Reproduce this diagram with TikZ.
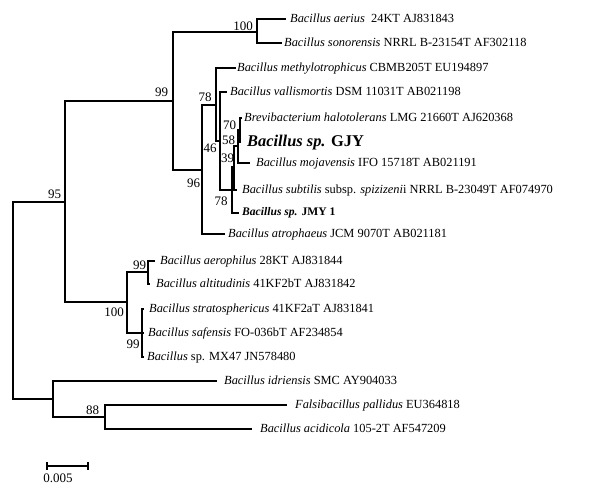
\documentclass[tikz,border=0pt]{standalone}
\usepackage{fontspec}
\setmainfont{Liberation Serif}
\begin{document}
\begin{tikzpicture}[x=1pt,y=-1pt,
  br/.style={line width=1.2pt, line join=miter},
  leaf/.style={anchor=west, inner sep=0pt, text height=9pt, text depth=3pt, font=\fontsize{12.4}{14}\selectfont},
  bigleaf/.style={anchor=west, inner sep=0pt, text height=12pt, text depth=4pt, font=\fontsize{16.4}{18}\selectfont\bfseries},
  smallbold/.style={anchor=west, inner sep=0pt, text height=8pt, text depth=3pt, font=\fontsize{11.6}{13}\selectfont\bfseries},
  boot/.style={inner sep=0pt, font=\fontsize{13}{15}\selectfont}]
\useasboundingbox (0,0) rectangle (604,485);

% leaves
\node[leaf] (aer) at (290,19) {\textit{Bacillus aerius}\ \ 24KT AJ831843};
\node[leaf] (son) at (284,43) {\textit{Bacillus sonorensis} NRRL B-23154T AF302118};
\node[leaf] (met) at (237,68) {\textit{Bacillus methylotrophicus} CBMB205T EU194897};
\node[leaf] (val) at (230,92) {\textit{Bacillus vallismortis} DSM 11031T AB021198};
\node[leaf] (bre) at (244,118) {\textit{Brevibacterium halotolerans} LMG 21660T AJ620368};
\node[bigleaf] (gjy) at (247,142) {{\itshape Bacillus sp.} GJY};
\node[leaf] (moj) at (256,163) {\textit{Bacillus mojavensis} IFO 15718T AB021191};
\node[leaf] (sub) at (242,190) {\textit{Bacillus subtilis} subsp. \textit{spizizeni}i NRRL B-23049T AF074970};
\node[smallbold] (jmy) at (242,213) {{\itshape Bacillus sp.} JMY 1};
\node[leaf] (atr) at (228,234) {\textit{Bacillus atrophaeus} JCM 9070T AB021181};
\node[leaf] (aph) at (160,261) {\textit{Bacillus aerophilus} 28KT AJ831844};
\node[leaf] (alt) at (156,284) {\textit{Bacillus altitudinis} 41KF2bT AJ831842};
\node[leaf] (str) at (149,309) {\textit{Bacillus stratosphericus} 41KF2aT AJ831841};
\node[leaf] (saf) at (148,333) {\textit{Bacillus safensis} FO-036bT AF234854};
\node[leaf] (mx) at (147,357) {\textit{Bacillus} sp. MX47 JN578480};
\node[leaf] (idr) at (224,381) {\textit{Bacillus idriensis} SMC AY904033};
\node[leaf] (pal) at (295,405) {\textit{Falsibacillus pallidus} EU364818};
\node[leaf] (aci) at (260,429) {\textit{Bacillus acidicola} 105-2T AF547209};

% internal nodes
\coordinate (root) at (13,301);
\coordinate (n95) at (65,202);
\coordinate (nO) at (53,399);
\coordinate (n88) at (105,417);
\coordinate (n99) at (173,101);
\coordinate (n100a) at (257,32);
\coordinate (n96) at (202,170);
\coordinate (n78a) at (216,105);
\coordinate (n46) at (220,141);
\coordinate (nX) at (232,190);
\coordinate (nY) at (234,167);
\coordinate (nZ) at (238,146);
\coordinate (nW) at (240,130);
\coordinate (n100b) at (127,302);
\coordinate (n99a) at (148,272);
\coordinate (n99b) at (142,333);

% branches
\draw[br] (root) |- (n95);
\draw[br] (root) |- (nO);
\draw[br] (n95) |- (n99);
\draw[br] (n95) |- (n100b);
\draw[br] (n99) |- (n100a);
\draw[br] (n99) |- (n96);
\draw[br] (n100a) |- ([xshift=-4pt]aer.west);
\draw[br] (n100a) |- ([xshift=-2pt]son.west);
\draw[br] (n96) |- (n78a);
\draw[br] (n96) |- ([xshift=-3pt]atr.west);
\draw[br] (n78a) |- ([xshift=-1pt]met.west);
\draw[br] (n78a) |- (n46);
\draw[br] (n46) |- ([xshift=-3pt]val.west);
\draw[br] (n46) |- (nX);
\draw[br] (nX) |- (nY);
\draw[br] (nX) |- ([xshift=-3pt]jmy.west);
\draw[br] (nY) |- (nZ);
\draw[br] (nY) |- ([xshift=-5pt]sub.west);
\draw[br] (nZ) |- (nW);
\draw[br] (nZ) |- ([xshift=-6pt]moj.west);
\draw[br] (nW) |- ([xshift=-2pt]bre.west);
\draw[br] (nW) |- ([xshift=-6pt]gjy.west);
\draw[br] (n100b) |- (n99a);
\draw[br] (n100b) |- (n99b);
\draw[br] (n99a) |- ([xshift=-5pt]aph.west);
\draw[br] (n99a) |- ([xshift=-6pt]alt.west);
\draw[br] (n99b) |- ([xshift=-5pt]str.west);
\draw[br] (n99b) |- ([xshift=-4pt]saf.west);
\draw[br] (n99b) |- ([xshift=-3pt]mx.west);
\draw[br] (nO) |- ([xshift=-7pt]idr.west);
\draw[br] (nO) |- (n88);
\draw[br] (n88) |- ([xshift=-8pt]pal.west);
\draw[br] (n88) |- ([xshift=-8pt]aci.west);

% bootstrap values
\node[boot] (b95) at (54.5,194) {95};
\node[boot] (b99) at (161.5,92) {99};
\node[boot] (b100a) at (243,26) {100};
\node[boot] (b78a) at (205,97) {78};
\node[boot] (b96) at (193.5,183) {96};
\node[boot] (b46) at (210,148.5) {46};
\node[boot] (b70) at (229.5,125) {70};
\node[boot] (b58) at (228.5,140) {58};
\node[boot] (b39) at (227.5,158) {39};
\node[boot] (b78b) at (221,201) {78};
\node[boot] (b99a) at (139.5,265.5) {99};
\node[boot] (b100b) at (114,312.5) {100};
\node[boot] (b99b) at (133,344) {99};
\node[boot] (b88) at (92.5,410) {88};

% scale bar
\coordinate (sbL) at (47,466);
\coordinate (sbR) at (88,466);
\draw[br] (sbL) -- (sbR);
\draw[br] ([yshift=4pt]sbL) -- ([yshift=-4pt]sbL);
\draw[br] ([yshift=4pt]sbR) -- ([yshift=-4pt]sbR);
\node[boot] (sbt) at (58,478) {0.005};
\end{tikzpicture}
\end{document}
